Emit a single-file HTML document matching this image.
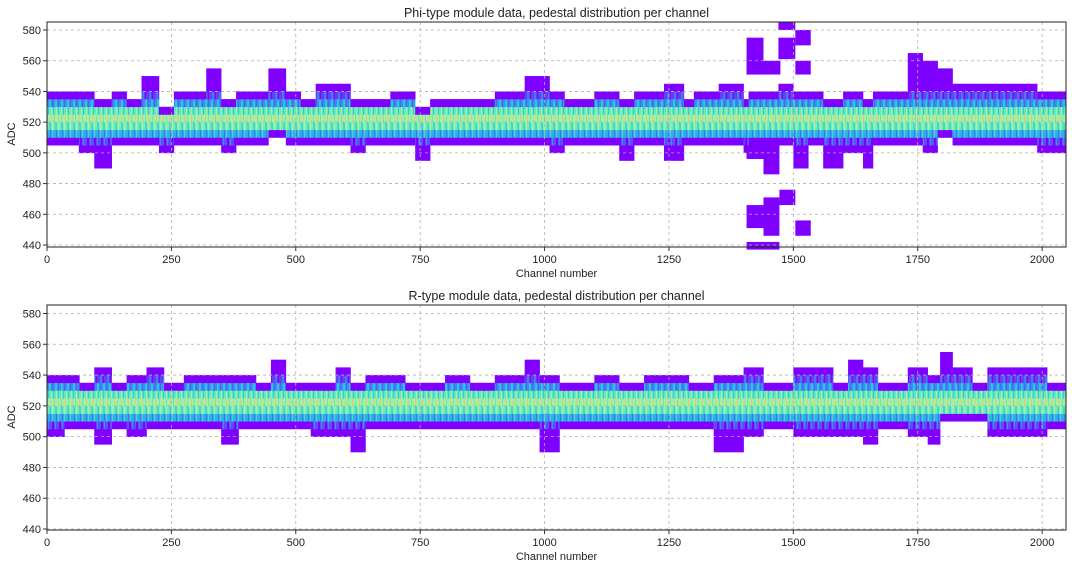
<!DOCTYPE html>
<html><head><meta charset="utf-8"><style>
body{margin:0;background:#fff;font-family:"Liberation Sans",sans-serif}
svg text{font-family:"Liberation Sans",sans-serif;fill:#222}
</style></head><body>
<svg id="chart" width="1072" height="568" xmlns="http://www.w3.org/2000/svg">
<defs>
<pattern id="p535" width="7" height="10" patternUnits="userSpaceOnUse"><rect width="7" height="10" fill="#6a3cf8"/><rect x="2" width="2" height="10" fill="#3e7cf2"/><rect x="5" width="1" height="10" fill="#7f00ff"/></pattern>
<pattern id="p530" width="6" height="10" patternUnits="userSpaceOnUse"><rect width="6" height="10" fill="#3890ee"/><rect x="1" width="2" height="10" fill="#2cc4e0"/><rect x="4" width="1" height="10" fill="#5a5cf6"/></pattern>
<pattern id="p525" width="5" height="10" patternUnits="userSpaceOnUse"><rect width="5" height="10" fill="#66e8bc"/><rect x="1" width="1" height="10" fill="#a8f09a"/><rect x="3" width="1" height="10" fill="#2ccce0"/></pattern>
<pattern id="p520" width="7" height="10" patternUnits="userSpaceOnUse"><rect width="7" height="10" fill="#a2f0a0"/><rect x="2" width="1" height="10" fill="#e0c880"/><rect x="5" width="1" height="10" fill="#66e8bc"/></pattern>
<pattern id="p515" width="6" height="10" patternUnits="userSpaceOnUse"><rect width="6" height="10" fill="#78eeb4"/><rect x="1" width="2" height="10" fill="#40d8d0"/><rect x="4" width="1" height="10" fill="#b0f098"/></pattern>
<pattern id="p510" width="6" height="10" patternUnits="userSpaceOnUse"><rect width="6" height="10" fill="#30aee8"/><rect x="2" width="1" height="10" fill="#4a70f4"/><rect x="4" width="1" height="10" fill="#40d8d0"/></pattern>
<pattern id="p505" width="7" height="10" patternUnits="userSpaceOnUse"><rect width="7" height="10" fill="#5a50f8"/><rect x="3" width="2" height="10" fill="#7f00ff"/><rect x="6" width="1" height="10" fill="#3a90ee"/></pattern>
</defs>
</svg>
<script>
// ---- data: [channelStart, channelEnd, adcLow, adcHigh]
const phiSegStart=[0,64,95,130,160,190,225,255,320,350,380,445,480,510,540,610,640,690,740,770,900,960,1000,1010,1040,1100,1150,1180,1240,1280,1300,1350,1400,1410,1470,1500,1530,1560,1600,1640,1660,1730,1760,1790,1820,1990];
const phiSegLo=[505,500,490,505,505,505,500,505,505,500,505,510,505,505,505,500,505,505,495,505,505,505,505,500,505,505,495,505,495,505,505,505,500,505,505,490,505,490,500,490,505,505,500,510,505,500];
const phiSegHi=[540,540,535,540,535,550,530,540,555,535,540,555,540,535,545,535,535,540,530,535,540,550,550,540,535,540,535,540,545,535,540,545,535,540,545,540,540,535,540,535,540,565,560,555,545,540];
const phiOutStart=[1406,1406,1470,1470,1504,1504,1406,1440,1472,1504,1406,1406,1440];
const phiOutEnd=[1440,1474,1504,1504,1535,1535,1440,1472,1504,1535,1472,1440,1472];
const phiOutLo=[551,551,580,561,570,551,451,446,466,446,437,496,486];
const phiOutHi=[575,560,585,575,580,560,466,471,476,456,442,505,505];
const rSegStart=[0,35,65,95,130,160,200,235,275,350,385,420,450,480,530,580,610,640,680,720,800,850,900,960,990,1030,1100,1150,1200,1290,1340,1400,1440,1500,1580,1610,1640,1670,1730,1770,1795,1820,1860,1890,1970,2010];
const rSegLo=[500,505,505,495,505,500,505,505,505,495,505,505,505,505,500,500,490,505,505,505,505,505,505,505,490,505,505,505,505,505,490,500,505,500,500,500,495,505,500,495,510,510,510,500,500,505];
const rSegHi=[540,540,535,545,535,540,545,535,540,540,540,535,550,535,535,545,535,540,540,535,540,535,540,550,540,535,540,535,540,535,540,545,535,545,535,550,545,535,545,540,555,545,535,545,545,535];
const xTicks=[0,250,500,750,1000,1250,1500,1750,2000];
const yTicks=[440,460,480,500,520,540,560,580];

const NS='http://www.w3.org/2000/svg';
const svg=document.getElementById('chart');
function mk(tag,attrs,parent){const e=document.createElementNS(NS,tag);for(const k in attrs)e.setAttribute(k,attrs[k]);(parent||svg).appendChild(e);return e;}
const rowFill={535:'url(#p535)',530:'url(#p530)',525:'url(#p525)',520:'url(#p520)',515:'url(#p515)',510:'url(#p510)',505:'url(#p505)'};
function colorFor(b,lo,hi){if(b===lo||b===hi-5)return '#7f00ff';return rowFill[b]||'#7f00ff';}

function panel(name,title,top,y580,y440,starts,los,his,oS,oE,oL,oH){
  const L=47,R=1066,B=top+225;
  const xs=c=>L+c*(R-L)/2048;
  const ys=v=>y440+(v-440)*(y580-y440)/140;
  const g=mk('g',{});
  
  
  for(let i=0;i<starts.length;i++){
    const c0=starts[i],c1=(i+1<starts.length?starts[i+1]:2048);
    for(let b=los[i];b<his[i];b+=5){
      const r=mk('rect',{x:xs(c0),y:ys(b+5),width:xs(c1)-xs(c0)+0.3,height:ys(b)-ys(b+5)+0.3,fill:colorFor(b,los[i],his[i])},g);
      
      
    }
  }
  for(let i=0;i<oS.length;i++){
    const r=mk('rect',{x:xs(oS[i]),y:ys(oH[i]),width:xs(oE[i])-xs(oS[i]),height:ys(oL[i])-ys(oH[i]),fill:'#7f00ff'},g);
    
    
  }
  xTicks.forEach(t=>{mk('line',{x1:xs(t),x2:xs(t),y1:top,y2:B,stroke:'#b0b0b0','stroke-dasharray':'3,3','stroke-width':0.8},g);
    mk('line',{x1:xs(t),x2:xs(t),y1:B,y2:B+4,stroke:'#333'},g);
    const tx=mk('text',{x:xs(t),y:B+16,'font-size':11,'text-anchor':'middle'},g);tx.textContent=t;
    });
  yTicks.forEach(t=>{mk('line',{x1:L,x2:R,y1:ys(t),y2:ys(t),stroke:'#b0b0b0','stroke-dasharray':'3,3','stroke-width':0.8},g);
    mk('line',{x1:L-4,x2:L,y1:ys(t),y2:ys(t),stroke:'#333'},g);
    const tx=mk('text',{x:L-6,y:ys(t)+4,'font-size':11,'text-anchor':'end'},g);tx.textContent=t;
    });
  mk('rect',{x:L,y:top,width:R-L,height:225,fill:'none',stroke:'#222','stroke-width':1},g);
  const tt=mk('text',{x:(L+R)/2,y:top-5,'font-size':12.5,'text-anchor':'middle'},g);tt.textContent=title;
  
  const xl=mk('text',{x:(L+R)/2,y:B+30,'font-size':11,'text-anchor':'middle'},g);xl.textContent='Channel number';
  
  const yl=mk('text',{x:0,y:0,'font-size':11,'text-anchor':'middle',transform:`translate(15,${top+112}) rotate(-90)`},g);yl.textContent='ADC';
  
}
panel('phi-panel','Phi-type module data, pedestal distribution per channel',22,30,245,phiSegStart,phiSegLo,phiSegHi,phiOutStart,phiOutEnd,phiOutLo,phiOutHi);
panel('r-panel','R-type module data, pedestal distribution per channel',305,313.5,529,rSegStart,rSegLo,rSegHi,[],[],[],[]);
</script>
</body></html>
